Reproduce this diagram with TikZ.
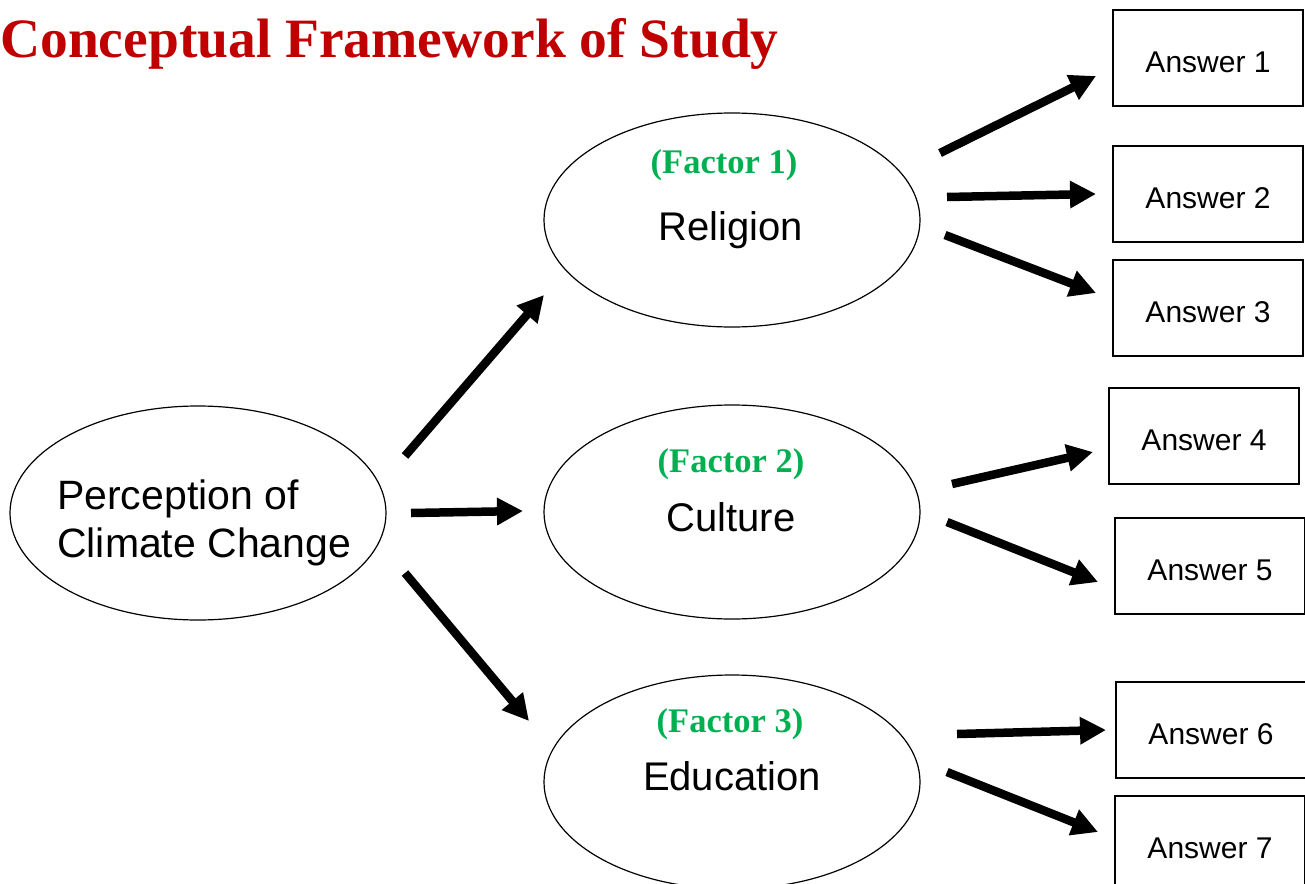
\documentclass[tikz,border=0pt]{standalone}
\usepackage{fontspec}
\setmainfont{Liberation Sans}
\newfontfamily\timesfont{Liberation Serif}
\usetikzlibrary{shapes.geometric,arrows.meta}
\definecolor{titlered}{RGB}{192,0,0}
\definecolor{factorgreen}{RGB}{0,176,80}
\tikzset{
  oval/.style={draw, ellipse, line width=1.2pt, minimum width=376pt, minimum height=214pt, inner sep=0pt},
  answer/.style={draw, rectangle, line width=1.3pt, minimum width=190pt, minimum height=96pt, inner sep=0pt, text height=29.5pt, text depth=0pt, font=\fontsize{30}{34}\selectfont},
  factor/.style={anchor=base, inner sep=0pt, text=factorgreen, font=\timesfont\bfseries\fontsize{34.5}{38}\selectfont},
  ovaltext/.style={anchor=base, inner sep=0pt, font=\fontsize{40}{44}\selectfont},
  fat/.style={line width=8.5pt, -{Triangle[length=26pt,width=26pt]}}
}
\begin{document}
\begin{tikzpicture}[x=1pt, y=-1pt]
  \clip (0,0) rectangle (1305,883);
  % title
  \node[anchor=base west, inner sep=0pt, text=titlered, font=\timesfont\bfseries\fontsize{55.5}{60}\selectfont] (title) at (0,57) {Conceptual Framework of Study};

  % ellipses
  \node[oval] (perc) at (198,513) {};
  \node[anchor=base west, inner sep=0pt, align=left, font=\fontsize{41}{48}\selectfont] (perctext) at (57,557) {Perception of\\Climate Change};
  \node[oval] (rel) at (732,220) {};
  \node[factor] (f1) at (724,173) {(Factor 1)};
  \node[ovaltext] (reltext) at (731,240) {Religion};
  \node[oval] (cult) at (732,512) {};
  \node[factor] (f2) at (731,472) {(Factor 2)};
  \node[ovaltext] (culttext) at (731,531) {Culture};
  \node[oval] (edu) at (732,782) {};
  \node[factor] (f3) at (730,732) {(Factor 3)};
  \node[ovaltext] (edutext) at (732,790) {Education};

  % answers
  \node[answer] (a1) at (1208,58) {Answer 1};
  \node[answer] (a2) at (1208,194) {Answer 2};
  \node[answer] (a3) at (1208,308) {Answer 3};
  \node[answer] (a4) at (1204,436) {Answer 4};
  \node[answer] (a5) at (1210,566) {Answer 5};
  \node[answer] (a6) at (1211,730) {Answer 6};
  \node[answer] (a7) at (1210,844) {Answer 7};

  % arrow ends
  \coordinate (perc-rel) at (405,456);  \coordinate (rel-in) at (544,295);
  \coordinate (perc-cult) at (411,513); \coordinate (cult-in) at (523,511);
  \coordinate (perc-edu) at (405,573);  \coordinate (edu-in) at (529,721);
  \coordinate (rel-1) at (940,153); \coordinate (a1-in) at (1096,76);
  \coordinate (rel-2) at (947,197); \coordinate (a2-in) at (1096,194);
  \coordinate (rel-3) at (945,235); \coordinate (a3-in) at (1096,293);
  \coordinate (cult-4) at (952,484); \coordinate (a4-in) at (1093,452);
  \coordinate (cult-5) at (947,522); \coordinate (a5-in) at (1098,582);
  \coordinate (edu-6) at (957,734); \coordinate (a6-in) at (1106,730);
  \coordinate (edu-7) at (947,772); \coordinate (a7-in) at (1098,832);

  \draw[fat] (perc-rel) -- (rel-in);
  \draw[fat] (perc-cult) -- (cult-in);
  \draw[fat] (perc-edu) -- (edu-in);
  \draw[fat] (rel-1) -- (a1-in);
  \draw[fat] (rel-2) -- (a2-in);
  \draw[fat] (rel-3) -- (a3-in);
  \draw[fat] (cult-4) -- (a4-in);
  \draw[fat] (cult-5) -- (a5-in);
  \draw[fat] (edu-6) -- (a6-in);
  \draw[fat] (edu-7) -- (a7-in);
\end{tikzpicture}
\end{document}
